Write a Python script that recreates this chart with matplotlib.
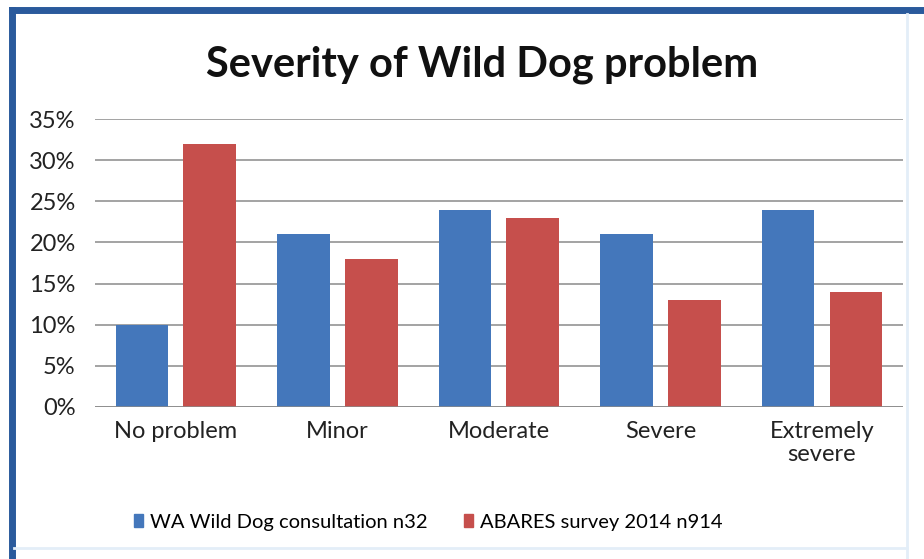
import numpy as np
import matplotlib.pyplot as plt
from matplotlib.lines import Line2D
from matplotlib.patches import Patch
from matplotlib.ticker import PercentFormatter

categories = ["No problem", "Minor", "Moderate", "Severe", "Extremely\nsevere"]
wa_consultation = [10, 21, 24, 21, 24]
abares_survey = [32, 18, 23, 13, 14]
series_names = ["WA Wild Dog consultation n32", "ABARES survey 2014 n914"]

BLUE = "#4477bb"
RED = "#c64f4c"

plt.rcParams["font.family"] = ["Lato", "DejaVu Sans"]

fig = plt.figure(figsize=(9.24, 5.59), dpi=100)
ax = fig.add_axes([0.103, 0.272, 0.874, 0.515])

x = np.arange(len(categories))
w = 0.327
off = 0.21
ax.bar(x - off, wa_consultation, w, color=BLUE, zorder=3)
ax.bar(x + off, abares_survey, w, color=RED, zorder=3)

ax.set_xlim(-0.5, len(categories) - 0.5)
ax.set_ylim(0, 35)
ax.set_yticks(np.arange(0, 36, 5))
ax.yaxis.set_major_formatter(PercentFormatter(decimals=0))
ax.grid(axis="y", color="#8a8a8a", linewidth=1.1, zorder=0)
for s in ax.spines.values():
    s.set_visible(False)
ax.axhline(0, color="#8a8a8a", linewidth=1.1, zorder=4)
ax.tick_params(axis="both", length=0, labelsize=17, colors="#222222")
ax.tick_params(axis="y", pad=14)
ax.tick_params(axis="x", pad=10)
ax.set_xticks(x)
ax.set_xticklabels(categories, linespacing=1.15)

fig.text(0.522, 0.885, "Severity of Wild Dog problem", ha="center", va="center",
         fontsize=30, fontweight="bold", color="#111111")

handles = [Patch(color=BLUE), Patch(color=RED)]
fig.legend(handles, series_names, loc="center left", bbox_to_anchor=(0.125, 0.066),
           ncol=2, frameon=False, fontsize=14.5, handlelength=0.45,
           handleheight=0.65, handletextpad=0.35, columnspacing=1.8)

# chart frame: heavy blue top/left, faint edges right/bottom
fig.add_artist(Line2D([0.0125, 1.0], [0.982, 0.982], transform=fig.transFigure,
                      color="#2a5a9c", linewidth=5))
fig.add_artist(Line2D([0.0125, 0.0125], [0.0, 0.982], transform=fig.transFigure,
                      color="#2a5a9c", linewidth=5))
fig.add_artist(Line2D([0.982, 0.982], [0.0, 0.975], transform=fig.transFigure,
                      color="#e3eef8", linewidth=2))
fig.add_artist(Line2D([0.015, 0.982], [0.02, 0.02], transform=fig.transFigure,
                      color="#e3eef8", linewidth=2))

fig.savefig("out.png", dpi=100)
